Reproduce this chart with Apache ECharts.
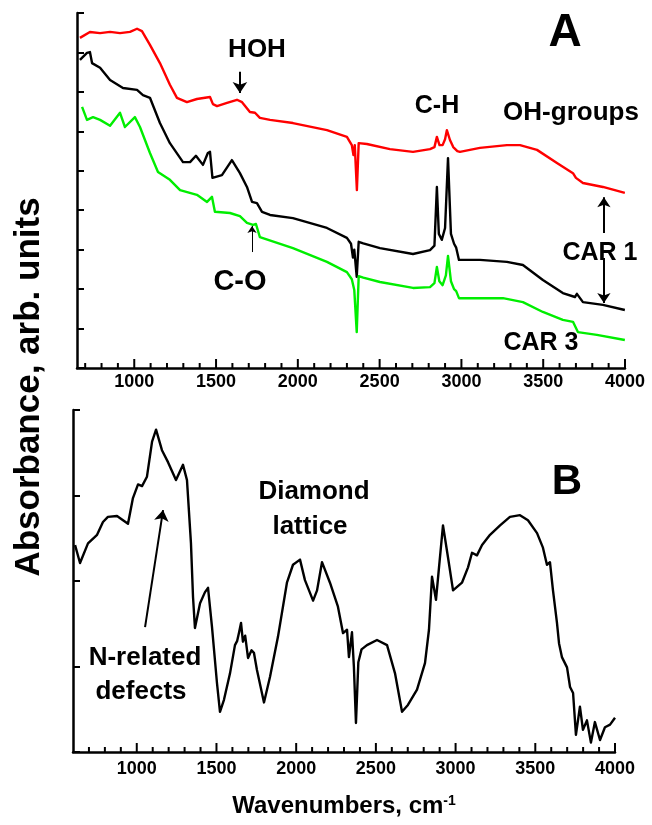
<!DOCTYPE html>
<html>
<head>
<meta charset="utf-8">
<script src="https://cdn.jsdelivr.net/npm/echarts@6/dist/echarts.min.js"></script>
<style>
  html, body { margin: 0; padding: 0; background: #fff; }
  #chart { width: 652px; height: 825px; }
</style>
</head>
<body>
<div id="chart"></div>
<script>
// ---- data ----
// panel A: red (top), black (CAR 1), green (CAR 3)
const wnRed = [668,729,791,852,913,974,1017,1047,1096,1157,1218,1261,1322,1383,1463,1481,1506,1567,1628,1659,1707,1738,1768,1830,1970,2178,2300,2330,2340,2348,2361,2372,2422,2563,2704,2808,2835,2850,2866,2885,2900,2911,2930,2950,2975,2991,3113,3278,3358,3462,3584,3682,3700,3743,3865,3999];
const absRed = [83.7,85.2,84.9,85.2,84.9,85.2,86.0,85.4,81.9,77.3,71.8,68.5,67.4,68.2,68.7,66.9,66.4,67.2,68.0,67.4,64.9,64.7,63.4,62.9,62.1,60.3,58.6,56.5,54.0,56.5,45.1,57.0,56.8,55.5,54.8,55.5,56.0,58.6,56.5,56.5,58.0,60.3,57.8,56.0,55.0,54.8,55.8,56.5,56.5,55.3,52.0,49.4,48.2,46.9,45.9,44.4];

const wnCar1 = [668,711,729,742,791,852,931,1017,1053,1096,1157,1218,1298,1341,1377,1420,1450,1463,1478,1536,1597,1646,1689,1720,1750,1781,1830,1970,2178,2300,2325,2337,2345,2360,2372,2400,2502,2704,2808,2835,2850,2862,2880,2900,2918,2936,2955,2968,2985,3113,3278,3376,3498,3620,3694,3706,3743,3865,3999];
const absCar1 = [78.1,79.9,80.1,77.3,76.1,73.0,71.0,70.5,69.2,68.5,62.1,57.0,52.2,52.2,53.8,51.5,54.5,54.8,48.2,48.9,52.7,49.4,45.9,42.1,41.8,39.6,38.8,38.0,35.5,33.0,31.5,28.0,30.0,23.1,32.0,31.6,30.4,28.9,29.9,31.0,45.9,34.0,32.5,35.5,53.2,34.0,31.5,30.5,27.4,27.4,26.9,26.1,22.3,19.0,18.0,18.8,16.7,16.0,14.7];

const wnCar3 = [681,711,748,791,852,913,943,1004,1035,1096,1145,1218,1280,1383,1445,1475,1493,1585,1646,1689,1726,1744,1768,1970,2178,2300,2330,2345,2360,2372,2400,2502,2704,2808,2835,2850,2865,2885,2905,2918,2936,2955,2968,2985,3113,3254,3376,3498,3620,3682,3712,3828,3999];
const absCar3 = [66.2,62.9,63.6,62.9,61.4,64.7,61.1,63.6,61.1,54.5,49.7,47.7,45.1,43.9,42.1,43.4,39.6,39.3,38.5,36.8,36.3,36.5,33.2,30.4,26.9,24.3,22.5,19.8,9.1,23.3,22.9,21.8,20.3,20.5,21.5,25.6,22.0,21.0,23.5,28.4,22.0,20.0,19.5,17.7,17.7,17.7,16.7,14.2,12.2,11.7,9.1,8.4,7.1];

// panel B: single black spectrum
const wnB = [613,644,694,751,788,819,876,945,976,1008,1033,1064,1096,1121,1158,1196,1246,1290,1315,1340,1353,1365,1397,1428,1447,1472,1503,1522,1547,1585,1616,1630,1642,1654,1666,1680,1698,1720,1735,1754,1798,1836,1886,1942,1980,2024,2055,2106,2131,2162,2212,2262,2294,2319,2331,2350,2362,2375,2390,2410,2444,2507,2570,2620,2664,2701,2758,2808,2833,2852,2877,2896,2921,2952,2984,3040,3078,3103,3134,3166,3216,3279,3341,3404,3454,3511,3548,3573,3592,3611,3636,3649,3667,3699,3718,3737,3755,3780,3799,3824,3849,3874,3906,3937,3969,4000];
const absB = [24.2,22.1,24.4,25.4,26.9,27.5,27.6,26.7,29.7,31.3,31.1,32.2,36.3,37.7,35.3,33.9,31.8,33.6,31.8,24.4,18.1,14.5,17.4,18.7,19.2,14.6,8.1,4.7,6.1,9.2,12.5,13.0,14.0,15.1,12.9,13.6,11.0,11.9,11.6,9.6,5.8,8.8,13.5,19.8,21.9,22.5,20.1,17.7,18.9,22.2,19.8,17.0,13.9,14.3,11.1,14.0,10.0,3.4,10.5,12.0,12.5,13.1,12.5,9.2,4.7,5.5,7.3,10.4,14.3,20.5,17.8,21.6,26.5,22.8,18.9,19.8,21.6,23.3,23.0,24.2,25.4,26.5,27.5,27.7,27.1,25.6,23.9,21.9,22.2,18.9,15.1,12.7,11.1,9.9,7.6,6.9,2.0,5.3,2.6,3.7,1.1,3.5,1.4,2.9,3.2,4.0];

// axis ranges / ticks
const xMinA = 650, xMinB = 600, xMax = 4000;
const majorStart = 1000, majorStep = 500;   // labelled ticks 1000..4000
const majorTicks = [1000,1500,2000,2500,3000,3500,4000];
const minorTicks = [700,800,900,1100,1200,1300,1400,1600,1700,1800,1900,2100,2200,2300,2400,2600,2700,2800,2900,3100,3200,3300,3400,3600,3700,3800,3900];

const FONT = '"Liberation Sans", Arial, sans-serif';
const BLACK = '#000000';

// plot boxes (px) of the two panels
const boxA = { left: 77, top: 13, width: 548, height: 355 };
const boxB = { left: 73, top: 410, width: 542, height: 342 };

function zip(xs, ys) {
  return xs.map((x, i) => [x, ys[i]]);
}

// a grid covering only [from, xMax] of a panel, so that its labels start at a round value
function subGrid(box, min, from) {
  const k = box.width / (xMax - min);
  return { left: box.left + (from - min) * k, top: box.top, width: (xMax - from) * k, height: box.height };
}

function dataX(grid, min) {
  return {
    gridIndex: grid, type: 'value', min: min, max: xMax,
    axisLine: { show: true, lineStyle: { color: BLACK, width: 2.5 } },
    axisTick: { show: false }, axisLabel: { show: false }, splitLine: { show: false }
  };
}

function labelX(grid, margin) {
  return {
    gridIndex: grid, type: 'value', min: majorStart, max: xMax, interval: majorStep,
    axisLine: { show: false }, axisTick: { show: false },
    axisLabel: { margin: margin, color: BLACK, fontFamily: FONT, fontWeight: 'bold', fontSize: 18,
      formatter: v => String(v) },
    splitLine: { show: false }
  };
}

function leftY(grid, max) {
  return {
    gridIndex: grid, type: 'value', min: 0, max: max, interval: 10,
    axisLine: { show: true, lineStyle: { color: BLACK, width: 2.5 } },
    axisTick: { show: true, inside: true, length: 7, lineStyle: { color: BLACK, width: 2 } },
    axisLabel: { show: false }, splitLine: { show: false }
  };
}

function helperY(grid) {
  return {
    gridIndex: grid, type: 'value', min: 0, max: 10, interval: 10,
    axisLine: { show: false }, axisTick: { show: false }, axisLabel: { show: false }, splitLine: { show: false }
  };
}

function spectrum(xIdx, yIdx, xs, ys, color) {
  return {
    type: 'line', xAxisIndex: xIdx, yAxisIndex: yIdx,
    data: zip(xs, ys), symbol: 'none', showSymbol: false, silent: true,
    lineStyle: { color: color, width: 2.4, join: 'round' }, itemStyle: { color: color }
  };
}

// arrow between two data points
function arrow(from, to, width, head) {
  return [
    { coord: from, symbol: 'none' },
    { coord: to, symbol: 'arrow', symbolSize: head, lineStyle: { width: width, color: BLACK, type: 'solid' } }
  ];
}

function txt(text, x, y, size) {
  return {
    type: 'text', silent: true,
    style: { text: text, x: x, y: y, align: 'center', verticalAlign: 'middle',
      fontFamily: FONT, fontWeight: 'bold', fontSize: size, fill: BLACK }
  };
}

const chart = echarts.init(document.getElementById('chart'));

const seriesA1 = spectrum(0, 0, wnCar1, absCar1, BLACK);
seriesA1.markLine = {
  silent: true, animation: false, label: { show: false },
  lineStyle: { color: BLACK, type: 'solid', width: 2 },
  data: [
    arrow([1646, 75.1], [1646, 69.7], 2, 11),  // HOH
    arrow([1720, 29.4], [1720, 36.0], 1, 7),   // C-O
    arrow([3871, 34.2], [3871, 43.3], 2, 10),  // up to red
    arrow([3871, 27.9], [3871, 16.5], 2, 10)   // down to black
  ]
};

const seriesB = spectrum(2, 2, wnB, absB, BLACK);
seriesB.markLine = {
  silent: true, animation: false, label: { show: false },
  lineStyle: { color: BLACK, type: 'solid', width: 2 },
  data: [ arrow([1052, 14.6], [1165, 28.3], 2, 11) ]
};

const texts = [
  txt('A', 565, 33, 46),
  txt('HOH', 257, 50, 26),
  txt('C-H', 437, 106, 25),
  txt('OH-groups', 571, 113, 26),
  txt('C-O', 240, 282, 29),
  txt('CAR 1', 600, 253, 25),
  txt('CAR 3', 541, 343, 25),
  txt('B', 567, 482, 42),
  txt('Diamond', 314, 492, 26),
  txt('lattice', 310, 527, 26),
  txt('N-related', 145, 658, 26),
  txt('defects', 141, 692, 26),
  {
    type: 'text', silent: true, x: 29, y: 387, rotation: Math.PI / 2,
    style: { text: 'Absorbance, arb. units', x: 0, y: 0, align: 'center', verticalAlign: 'middle',
      fontFamily: FONT, fontWeight: 'bold', fontSize: 35, fill: BLACK }
  },
  {
    type: 'text', silent: true,
    style: {
      text: 'Wavenumbers, cm{sup|-1}', x: 344, y: 806, align: 'center', verticalAlign: 'middle',
      fontFamily: FONT, fontWeight: 'bold', fontSize: 24, fill: BLACK,
      rich: { sup: { fontFamily: FONT, fontWeight: 'bold', fontSize: 14, verticalAlign: 'top', fill: BLACK } }
    }
  }
];

const option = {
  animation: false,
  backgroundColor: '#fff',
  grid: [
    boxA, subGrid(boxA, xMinA, majorStart),
    boxB, subGrid(boxB, xMinB, majorStart)
  ],
  xAxis: [
    dataX(0, xMinA), labelX(1, 5),
    dataX(2, xMinB), labelX(3, 8)
  ],
  yAxis: [
    leftY(0, 90), helperY(1),
    leftY(2, 40), helperY(3)
  ],
  series: [
    spectrum(0, 0, wnRed, absRed, '#ff0000'),
    seriesA1,
    spectrum(0, 0, wnCar3, absCar3, '#00ee00'),
    seriesB
  ],
  graphic: texts
};

chart.setOption(option);

// inward x ticks, placed with the data axes' own scales
function xTicks(xIdx, yIdx) {
  const y0 = chart.convertToPixel({ yAxisIndex: yIdx }, 0);
  const line = (v, len) => {
    const x = chart.convertToPixel({ xAxisIndex: xIdx }, v);
    return { type: 'line', silent: true, z: 10,
      shape: { x1: x, y1: y0, x2: x, y2: y0 - len },
      style: { stroke: BLACK, lineWidth: 2 } };
  };
  return majorTicks.map(v => line(v, 9)).concat(minorTicks.map(v => line(v, 5)));
}

chart.setOption({ graphic: texts.concat(xTicks(0, 0), xTicks(2, 2)) });
</script>
</body>
</html>
